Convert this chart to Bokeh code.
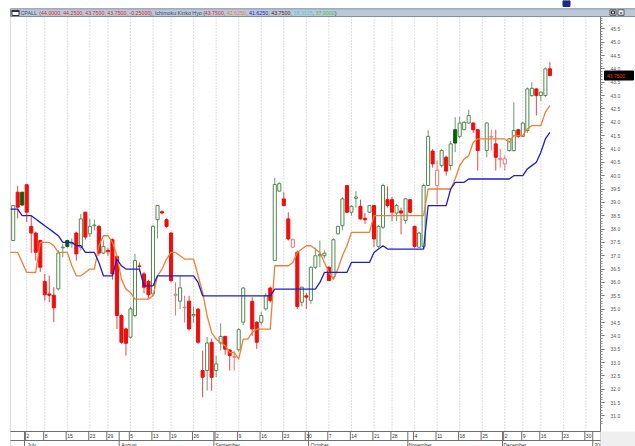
from bokeh.plotting import figure
from bokeh.models import (Range1d, LinearAxis, FixedTicker, PrintfTickFormatter,
                          CustomJSTickFormatter, ColumnDataSource, BoxAnnotation)
from bokeh.embed import file_html
from bokeh.resources import INLINE
from bokeh.core.properties import value

# ---------------- data (daily bars, trading-day index 0..119) ----------------
symbol = "CPALL"
opens = [37.57, 39.38, 39.38, 39.66, 38.10, 37.85, 37.57, 36.04, 35.57, 35.52,
         35.76, 37.30, 37.57, 37.45, 37.85, 37.32, 38.63, 37.82, 38.13, 38.10,
         37.10, 37.20, 37.60, 36.97, 34.76, 34.26, 33.95, 34.76, 36.62, 36.32,
         36.04, 35.57, 38.35, 38.65, 38.35, 37.85, 35.52, 35.30, 35.05, 35.30,
         34.75, 35.00, 32.70, 32.70, 33.76, 32.70, 33.73, 33.98, 33.47, 33.20,
         33.48, 34.51, None, 35.29, 34.51, 34.51, 35.01, 35.79, 36.82, 39.42,
         39.13, 38.38, 37.32, 37.13, 35.26, 35.50, 35.33, 36.57, 37.00, 37.00,
         36.57, 36.20, 37.82, 38.13, 39.63, 38.63, 39.15, 38.85, 38.40, 38.63,
         38.88, 37.35, 38.07, 39.10, 39.10, 38.60, 38.68, 38.32, 39.10, 38.10,
         37.32, 37.35, 39.63, 40.92, 39.63, 40.38, 40.69, 40.38, 41.72, 41.47,
         41.72, 41.97, 41.97, 41.72, None, 40.94, 41.45, 41.19, 40.60, 40.44,
         40.94, 40.94, 41.72, 41.47, 41.69, 43.00, 43.25, 43.00, 43.00, 44.00]
highs = [38.90, 39.62, 39.40, 39.70, 38.50, 37.90, 37.60, 36.32, 36.26, 35.82,
         37.20, 37.45, 37.60, 37.65, 37.90, 38.55, 38.65, 38.38, 38.35, 38.15,
         37.57, 37.30, 37.65, 37.00, 34.80, 34.30, 35.10, 37.07, 36.75, 36.40,
         36.10, 38.15, 38.90, 38.70, 38.40, 37.90, 36.00, 36.26, 35.50, 35.50,
         35.10, 35.05, 33.45, 33.95, 33.90, 33.26, 34.47, 34.00, 33.50, 33.45,
         34.30, 35.82, None, 35.45, 34.55, 34.90, 35.60, 35.85, 39.92, 39.75,
         39.38, 38.63, 37.65, 37.20, 35.85, 35.60, 36.60, 37.30, 37.57, 37.20,
         36.60, 37.65, 38.12, 39.20, 39.65, 38.90, 39.42, 39.10, 38.60, 38.90,
         38.90, 38.15, 39.70, 39.60, 39.20, 38.95, 38.80, 39.15, 39.10, 38.13,
         37.90, 39.70, 41.70, 41.00, 40.57, 41.00, 40.75, 41.30, 42.19, 42.20,
         42.05, 42.47, 42.00, 41.75, None, 42.00, 41.72, 41.72, 41.00, 40.75,
         41.40, 42.75, 41.75, 42.00, 43.30, 43.50, 43.27, 43.15, 44.05, 44.25]
lows = [37.55, 38.40, 38.85, 38.26, 37.10, 36.82, 36.39, 35.32, 35.26, 34.51,
        35.70, 36.95, 37.30, 37.30, 36.82, 37.20, 37.60, 37.70, 37.95, 37.00,
        37.05, 37.00, 36.10, 34.26, 33.70, 33.26, 33.90, 34.70, 36.40, 35.60,
        35.40, 35.50, 37.65, 38.55, 38.05, 36.00, 34.76, 35.00, 34.50, 34.20,
        34.50, 33.70, 31.70, 31.95, 31.95, 32.45, 33.45, 33.30, 32.70, 32.70,
        33.40, 34.40, None, 34.00, 33.51, 34.40, 34.95, 35.25, 36.80, 39.40,
        38.85, 37.57, 37.30, 35.00, 35.10, 35.00, 35.20, 36.50, 36.57, 36.90,
        36.05, 36.10, 37.80, 37.95, 38.60, 38.50, 38.80, 38.35, 38.20, 38.60,
        37.32, 37.30, 38.00, 38.80, 38.30, 38.30, 37.80, 38.20, 38.60, 37.30,
        37.30, 37.30, 39.60, 40.30, 38.92, 40.30, 40.00, 40.20, 40.88, 41.40,
        41.70, 41.95, 41.60, 40.19, None, 40.69, 40.94, 40.19, 40.30, 40.19,
        40.90, 40.90, 41.40, 41.45, 41.60, 42.95, 42.25, 42.80, 42.95, 43.75]
closes = [38.88, 38.82, 38.90, 38.63, 37.85, 37.13, 36.57, 35.54, 35.52, 35.05,
          37.10, 37.32, 37.35, 37.50, 37.07, 38.38, 37.70, 38.10, 38.15, 37.10,
          37.35, 37.15, 36.32, 34.76, 33.76, 33.72, 35.01, 36.82, 36.60, 35.82,
          35.54, 38.10, 38.88, 38.60, 38.10, 36.07, 35.56, 35.80, 35.07, 34.26,
          34.80, 33.76, 32.45, 33.73, 32.45, 32.95, 33.98, 33.50, 33.26, 33.22,
          34.23, 35.79, None, 34.26, 33.76, 34.76, 35.51, 35.32, 39.67, 39.70,
          38.88, 37.63, 37.60, 35.10, 35.82, 35.45, 36.57, 37.00, 37.05, 37.10,
          36.07, 37.60, 38.10, 39.13, 38.63, 38.85, 39.20, 38.38, 38.35, 38.88,
          37.63, 38.10, 39.63, 38.88, 38.63, 38.88, 38.60, 39.13, 38.63, 37.35,
          37.85, 39.63, 41.47, 40.44, 40.20, 40.94, 40.17, 41.19, 41.22, 41.97,
          42.00, 42.25, 41.72, 40.94, None, 41.97, 41.47, 40.69, 40.65, 40.63,
          41.38, 41.69, 41.47, 41.97, 43.25, 43.27, 43.00, 43.13, 44.00, 43.75]

# Ichimoku lines, trading-day index -1..119
tenkan = [37.125,
          37.125, 37.125, 36.75, 36.375, 36.375, 36.375, 37.5, 37.5, 37.5, 37.375,
          37.125, 37.125, 37.125, 36.625, 36.25, 36.25, 36.375, 36.5, 36.5, 37.375,
          37.75, 37.75, 37.5, 37.0, 36.125, 35.75, 35.625, 35.375, 35.375, 35.375,
          35.375, 35.5, 36.25, 36.5, 36.875, 37.125, 37.125, 37.0, 36.875, 36.875,
          36.875, 36.25, 35.625, 34.75, 34.125, 33.875, 33.75, 33.625, 33.375, 33.375,
          33.125, 33.875, 33.875, 34.125, 34.25, 34.25, 34.25, 34.25, 36.625, 36.625,
          36.625, 36.625, 36.75, 37.125, 37.25, 37.375, 37.375, 37.25, 37.125, 36.75,
          36.375, 36.125, 36.5, 37.0, 37.375, 37.875, 37.875, 37.875, 37.875, 37.875,
          38.5, 38.5, 38.5, 38.5, 38.5, 38.5, 38.5, 38.5, 38.5, 38.5,
          38.5, 38.5, 39.5, 39.5, 39.5, 39.5, 39.5, 39.5, 39.875, 40.375,
          40.625, 40.75, 41.25, 41.375, 41.375, 41.375, 41.375, 41.375, 41.375, 41.375,
          41.25, 41.5, 41.5, 41.5, 41.75, 41.875, 41.875, 41.875, 42.375, 42.625]
kijun = [38.75,
         38.75, 38.75, 38.5, 38.5, 38.5, 38.375, 38.25, 38.125, 38.0, 37.875,
         37.75, 37.5, 37.5, 37.5, 37.375, 37.375, 37.125, 37.125, 37.125, 36.75,
         36.25, 36.25, 36.25, 36.875, 36.625, 36.5, 36.5, 36.5, 36.5, 35.875,
         35.875, 35.875, 36.25, 36.25, 36.25, 36.25, 36.25, 36.25, 36.25, 36.25,
         36.25, 36.0, 35.5, 35.5, 35.5, 35.5, 35.5, 35.5, 35.5, 35.5,
         35.5, 35.5, 35.5, 35.5, 35.5, 35.5, 35.5, 35.5, 35.75, 35.75,
         35.75, 35.75, 35.75, 35.75, 35.75, 35.75, 35.75, 35.75, 36.0, 36.375,
         36.375, 36.375, 36.375, 36.375, 36.375, 36.75, 36.75, 36.75, 36.75, 36.75,
         37.125, 37.25, 37.375, 37.25, 37.25, 37.25, 37.25, 37.25, 37.25, 37.25,
         37.25, 37.25, 38.875, 38.875, 38.875, 38.875, 38.875, 39.5, 39.75, 39.75,
         39.75, 39.875, 39.875, 39.875, 39.875, 39.875, 39.875, 39.875, 39.875, 39.875,
         39.875, 40.0, 40.0, 40.0, 40.25, 40.375, 40.5, 40.875, 41.375, 41.625]

# last values shown in the header (price, tenkan, kijun, chikou, senkou A, senkou B)
ichimoku_last = [43.75, 42.625, 41.625, 43.75, 38.3125, 37.0]

# date axis: first trading day of each week (bar index) and its day number
week_idx = [3, 7, 12, 17, 21, 26, 31, 35, 40, 45, 50, 55, 60, 65, 70, 75, 80, 84,
            89, 94, 99, 104, 109, 113, 117, 122, 127]
week_labels = ["2", "8", "15", "23", "29", "5", "13", "19", "26", "2", "9", "16", "23",
               "30", "7", "14", "21", "28", "4", "11", "18", "25", "2", "9", "16", "23", "30"]
month_bounds = [2.5, 23.5, 44.5, 65.5, 87.5, 108.5, 128.5]
month_labels = ["July", "August", "September", "October", "November", "December", "20"]

price_ticks = [31.0, 31.5, 32.0, 32.5, 33.0, 33.5, 34.0, 34.5, 35.0, 35.5, 36.0, 36.5,
               37.0, 37.5, 38.0, 38.5, 39.0, 39.5, 40.0, 40.5, 41.0, 41.5, 42.0, 42.5,
               43.0, 43.5, 44.0, 44.5, 45.0, 45.5]

# ---------------- style / layout ----------------
FONT = "Liberation Sans"
G_LINE = "#4F8B4F"
G_WICK = "#6A9C6A"
DKGREEN = "#0B5E0B"
RED = "#F20C0C"
R_WICK = "#E64646"
PINK = "#EC7474"
ORANGE = "#EE7F35"
BLUE = "#1E1ECC"
AXIS_C = "#6E6E6E"

W, H = 635, 446                   # canvas (page is rendered without margin)
BAR_PX, BAR0_PX = 4.51, 12.7      # pixels per bar, page x of bar 0
UNIT_PX, P455_PX = 26.7, 28.3     # pixels per price unit, page y of 45.5


def bx(px):   # page x -> bar index
    return (px - BAR0_PX) / BAR_PX


def py(pyy):  # page y -> price
    return 45.5 - (pyy - P455_PX) / UNIT_PX


X_LO, X_HI = bx(0), bx(W)
Y_LO, Y_HI = py(H), py(0)
PLOT_L, PLOT_R = bx(10), bx(600)
PLOT_T = py(16)
ROW1 = py(431.0)   # bottom of price area / top of day row
ROW2 = py(440.0)   # top of month row

# ---------------- candles ----------------
cx, ctop, cbot, chi, clo, cfill, cline, cwick = [], [], [], [], [], [], [], []
prev = None
for i, (o, h, l, c) in enumerate(zip(opens, highs, lows, closes)):
    if o is None:
        continue
    rising = c >= o
    better = prev is None or c >= prev
    if rising and better:
        f, ln, w = "white", G_LINE, G_WICK
    elif rising:
        f, ln, w = "white", PINK, PINK
    elif better:
        f, ln, w = DKGREEN, DKGREEN, G_WICK
    else:
        f, ln, w = RED, RED, R_WICK
    cx.append(i); ctop.append(max(o, c)); cbot.append(min(o, c))
    chi.append(h); clo.append(l); cfill.append(f); cline.append(ln); cwick.append(w)
    prev = c

src = ColumnDataSource(dict(x=cx, top=ctop, bottom=cbot, high=chi, low=clo,
                            fill=cfill, line=cline, wick=cwick))

p = figure(width=W, height=H, output_backend="svg", toolbar_location=None,
           x_range=Range1d(X_LO, X_HI), y_range=Range1d(Y_LO, Y_HI),
           x_axis_location=None, y_axis_location=None,
           min_border_left=0, min_border_right=0, min_border_top=0, min_border_bottom=0)
p.title.visible = False
p.xgrid.visible = False
p.ygrid.visible = False
p.outline_line_color = None
p.background_fill_color = "white"
p.border_fill_color = "white"

# lower-right corner panel
p.quad(left=[PLOT_R], right=[X_HI], top=[ROW1], bottom=[Y_LO], fill_color="#EFEFEF", line_color=None)

# weekly dotted grid lines
p.segment(x0=week_idx, y0=[ROW1] * len(week_idx), x1=week_idx, y1=[PLOT_T] * len(week_idx),
          line_color="#BDBDBD", line_dash="1 2", line_width=1)

# candles
p.segment(x0="x", y0="low", x1="x", y1="high", line_color="wick", line_width=1, source=src)
p.vbar(x="x", width=0.68, top="top", bottom="bottom", fill_color="fill",
       line_color="line", line_width=1, source=src)

# Ichimoku lines
line_x = list(range(-1, len(opens)))
p.line(line_x, tenkan, line_color=ORANGE, line_width=1.3)
p.line(line_x, kijun, line_color=BLUE, line_width=1.3)
# keep the lines inside the price area on the left
p.quad(left=[X_LO], right=[PLOT_L], top=[PLOT_T], bottom=[ROW1], fill_color="white", line_color=None)

# plot-area border
p.add_layout(BoxAnnotation(left=PLOT_L, right=PLOT_R, top=PLOT_T, bottom=Y_LO,
                           fill_alpha=0, fill_color=None, line_color="#8C8C8C", line_width=1))

# right price axis, fixed at the right edge of the price area
minor = [round(30.7 + 0.1 * k, 1) for k in range(153)]
yax = LinearAxis(ticker=FixedTicker(ticks=price_ticks, minor_ticks=minor),
                 formatter=PrintfTickFormatter(format="%.1f"),
                 fixed_location=PLOT_R, bounds=(ROW1, PLOT_T))
yax.major_tick_out = 4
yax.major_tick_in = 0
yax.minor_tick_out = 2
yax.minor_tick_in = 0
yax.major_label_standoff = 6
yax.major_label_text_font = FONT
yax.major_label_text_font_size = "5px"
yax.major_label_text_color = "#555555"
yax.axis_line_color = AXIS_C
yax.major_tick_line_color = AXIS_C
yax.minor_tick_line_color = "#8A8A8A"
p.add_layout(yax, "right")

# bottom rows: day numbers and month names (labels sit right of their separator lines)
nearest_js = """
let best = 0, d = 1e9;
for (let k = 0; k < pos.length; k++) { const e = Math.abs(pos[k] - tick); if (e < d) { d = e; best = k; } }
return labels[best];
"""
day_line_pos = [w - 0.25 for w in week_idx]
day_label_pos = [w - 0.25 + (1.0 + 1.4 * len(s)) / BAR_PX for w, s in zip(week_idx, week_labels)]
month_label_pos = [b + (2.0 + 1.3 * len(s)) / BAR_PX for b, s in zip(month_bounds, month_labels)]

dax = LinearAxis(ticker=FixedTicker(ticks=day_label_pos, minor_ticks=[]),
                 formatter=CustomJSTickFormatter(args=dict(pos=day_label_pos, labels=week_labels),
                                                 code=nearest_js),
                 fixed_location=ROW1, bounds=(PLOT_L, PLOT_R))
max_ = LinearAxis(ticker=FixedTicker(ticks=month_label_pos, minor_ticks=[]),
                  formatter=CustomJSTickFormatter(args=dict(pos=month_label_pos, labels=month_labels),
                                                  code=nearest_js),
                  fixed_location=ROW2, bounds=(PLOT_L, PLOT_R))
for ax, so in ((dax, 2), (max_, 1)):
    ax.major_tick_out = 0
    ax.major_tick_in = 0
    ax.minor_tick_out = 0
    ax.minor_tick_in = 0
    ax.major_label_standoff = so
    ax.major_label_text_font = FONT
    ax.major_label_text_font_size = "5px"
    ax.major_label_text_color = "#333333"
    ax.axis_line_color = AXIS_C
    p.add_layout(ax, "below")

# separator lines in the bottom rows
sep_day = day_line_pos + month_bounds
p.segment(x0=sep_day, y0=[ROW1] * len(sep_day), x1=sep_day, y1=[ROW2] * len(sep_day),
          line_color=AXIS_C, line_width=1)
p.segment(x0=month_bounds, y0=[ROW2] * len(month_bounds), x1=month_bounds,
          y1=[Y_LO] * len(month_bounds), line_color=AXIS_C, line_width=1)

# last price marker on the price axis
last = closes[-1]
half = 4.5 / UNIT_PX
p.quad(left=[bx(604.0)], right=[bx(633.0)], top=[last + half], bottom=[last - half],
       fill_color="black", line_color="black")
p.text(x=[bx(606.5)], y=[last], text=[f"{last:.4f}"], text_color="#FF2A2A",
       text_font=value(FONT), text_font_size="5px", text_baseline="middle", text_align="left")

# ---------------- header bar ----------------
p.quad(left=[PLOT_L], right=[X_HI], top=[py(8.3)], bottom=[py(16)],
       fill_color="#BCC8D6", line_color="#7F8FA6")

o_, h_, l_, c_ = opens[-1], highs[-1], lows[-1], closes[-1]
chg = c_ - closes[-2]
DARK = "#3B4A7A"
seg_text = [symbol,
            f"({o_:.4f}, {h_:.4f}, {l_:.4f}, {c_:.4f}, {chg:.5f})",
            ", Ichimoku Kinko Hyo (",
            f"{ichimoku_last[0]:.4f}", ", ", f"{ichimoku_last[1]:.4f}", ", ",
            f"{ichimoku_last[2]:.4f}", ", ", f"{ichimoku_last[3]:.4f}", ", ",
            f"{ichimoku_last[4]:.4f}", ", ", f"{ichimoku_last[5]:.4f}", " )"]
seg_px = [20.0, 38.8, 151.5, 204.2, 223.4, 226.4, 245.6, 248.5, 267.7, 270.7, 289.9,
          292.8, 312.0, 315.0, 334.2]
seg_c = [DARK, "#E02828", DARK, "#E02828", DARK, ORANGE, DARK, BLUE, DARK, "#5A2626",
         DARK, "#3CD6E0", DARK, "#3CC83C", DARK]
p.text(x=[bx(v) for v in seg_px], y=[py(12.4)] * len(seg_px), text=seg_text, text_color=seg_c,
       text_font=value(FONT), text_font_size="5.3px", text_baseline="middle", text_align="left")
# window icon and buttons
p.quad(left=[bx(11.5)], right=[bx(18.5)], top=[py(10.0)], bottom=[py(15.0)],
       fill_color="white", line_color="#333333")
p.quad(left=[bx(11.5)], right=[bx(18.5)], top=[py(10.0)], bottom=[py(11.0)],
       fill_color="#333333", line_color="#333333")
p.quad(left=[bx(609.5), bx(617.5)], right=[bx(615.5), bx(623.5)], top=[py(9.3)] * 2,
       bottom=[py(14.8)] * 2, fill_color="#F2F2F2", line_color="#555555")
p.quad(left=[bx(611.0)], right=[bx(614.0)], top=[py(10.6)], bottom=[py(13.4)],
       fill_color=None, line_color="#222222")
p.text(x=[bx(620.5)], y=[py(12.2)], text=["\u00d7"], text_color="#222222", text_font=value(FONT),
       text_font_size="6px", text_baseline="middle", text_align="center")
# small dark-blue icon above the header, top right
p.quad(left=[bx(562.5)], right=[bx(569.5)], top=[py(0.0)], bottom=[py(6.0)],
       fill_color="#1C2A8C", line_color="#1C2A8C")

open("out.html", "w").write(file_html(p, INLINE))
